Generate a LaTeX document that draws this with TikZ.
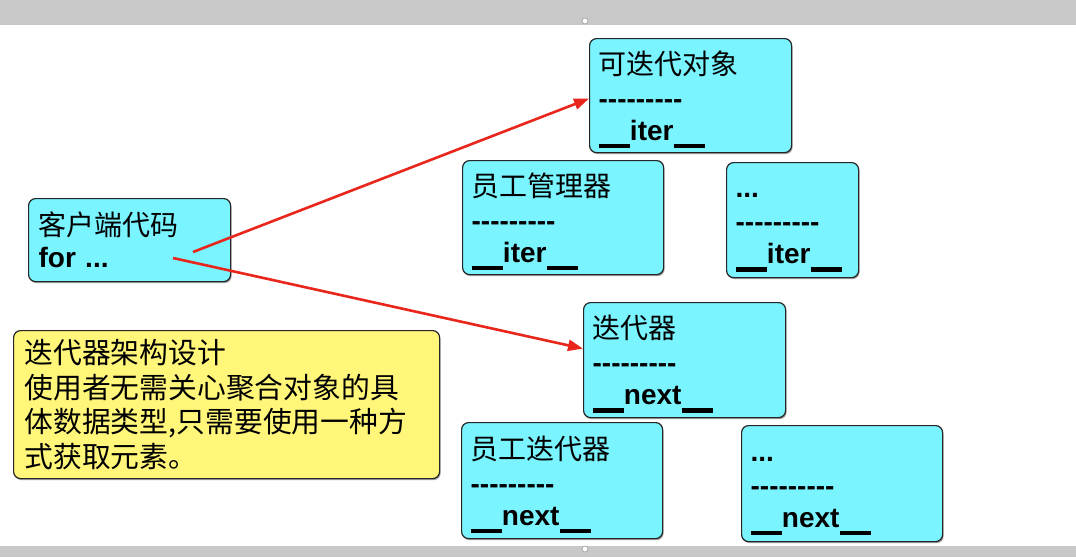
\documentclass[tikz,border=0pt]{standalone}
\usepackage{fontspec}
\setmainfont{Liberation Sans}
\newfontfamily\cjk{Noto Sans CJK SC}
\newfontfamily\lat{Liberation Sans}
\usetikzlibrary{arrows.meta,shadows}
\definecolor{boxcyan}{RGB}{122,244,255}
\definecolor{noteyellow}{RGB}{255,246,122}
\definecolor{arrowred}{RGB}{232,38,28}
\definecolor{bargray}{RGB}{200,200,200}
\newcommand\dashrow{-\kern0pt-\kern0pt-\kern0pt-\kern0pt-\kern0pt-\kern0pt-\kern0pt-\kern0pt-}
\newcommand\zh[1]{{\cjk\mdseries #1}}
\newcommand\us{\smash{\rule[-0.28em]{1.12em}{0.16em}}}
\newcommand\cjkstrut{\vphantom{\zh{可}}}
\tikzset{
  basebox/.style={draw=black!85, line width=1.2pt, rounded corners=7pt,
    anchor=north west, align=left, inner ysep=0pt,
    drop shadow={shadow xshift=1pt, shadow yshift=-1.5pt, opacity=.55, fill=black!70}},
  cyanbox/.style={basebox, fill=boxcyan, inner xsep=9pt,
    font=\lat\bfseries\fontsize{28}{32}\selectfont},
  notebox/.style={basebox, fill=noteyellow, inner xsep=11pt,
    font=\cjk\fontsize{28.8}{34.5}\selectfont},
  redarrow/.style={draw=arrowred, line width=2.6pt,
    -{Triangle[length=15pt,width=11pt]}},
  handle/.style={circle, draw=gray!80, fill=white, line width=0.6pt, inner sep=0pt, minimum size=6pt}
}
\begin{document}
\begin{tikzpicture}[x=1pt,y=-1pt]
\useasboundingbox (0,0) rectangle (1076,557);
\fill[white] (0,0) rectangle (1076,557);
\fill[bargray] (0,0) rectangle (1076,25);
\fill[bargray] (0,546) rectangle (1076,557);
\node[handle] (htop) at (585,21) {};
\node[handle] (hbot) at (585,549) {};

\node[cyanbox, minimum width=202pt, minimum height=114pt, text width=184pt] (iterable) at (589,38)
  {\zh{可迭代对象}\\[2pt] \dashrow\\ \us iter\us};
\node[cyanbox, minimum width=201pt, minimum height=114pt, text width=183pt] (empmgr) at (462,160)
  {\zh{员工管理器}\\[2pt] \dashrow\\ \us iter\us};
\node[cyanbox, minimum width=132pt, minimum height=115pt, text width=114pt] (iterdots) at (726,162)
  {\cjkstrut...\\[2pt] \dashrow\\ \us iter\us};
\node[cyanbox, minimum width=202pt, minimum height=115pt, text width=184pt] (iterator) at (583,302)
  {\zh{迭代器}\\[2pt] \dashrow\\ \us next\us};
\node[cyanbox, minimum width=201pt, minimum height=116pt, text width=183pt] (empiter) at (461,422)
  {\zh{员工迭代器}\\[2pt] \dashrow\\ \us next\us};
\node[cyanbox, minimum width=201pt, minimum height=116pt, text width=183pt] (nextdots) at (741,425)
  {\cjkstrut...\\[2pt] \dashrow\\ \us next\us};
\node[cyanbox, inner xsep=10pt, minimum width=202pt, minimum height=83pt, text width=182pt] (client) at (28,198)
  {\zh{客户端代码}\\ for ...};
\node[notebox, minimum width=426pt, minimum height=148pt, text width=404pt] (note) at (13,330)
  {迭代器架构设计\\ 使用者无需关心聚合对象的具\\ 体数据类型,只需要使用一种方\\ 式获取元素。};

\coordinate (s1) at (193,252);
\coordinate (s2) at (173,258);
\draw[redarrow] (s1) -- ([yshift=-3pt]iterable.west);
\draw[redarrow] (s2) -- ([yshift=11.5pt]iterator.west);
\end{tikzpicture}
\end{document}
